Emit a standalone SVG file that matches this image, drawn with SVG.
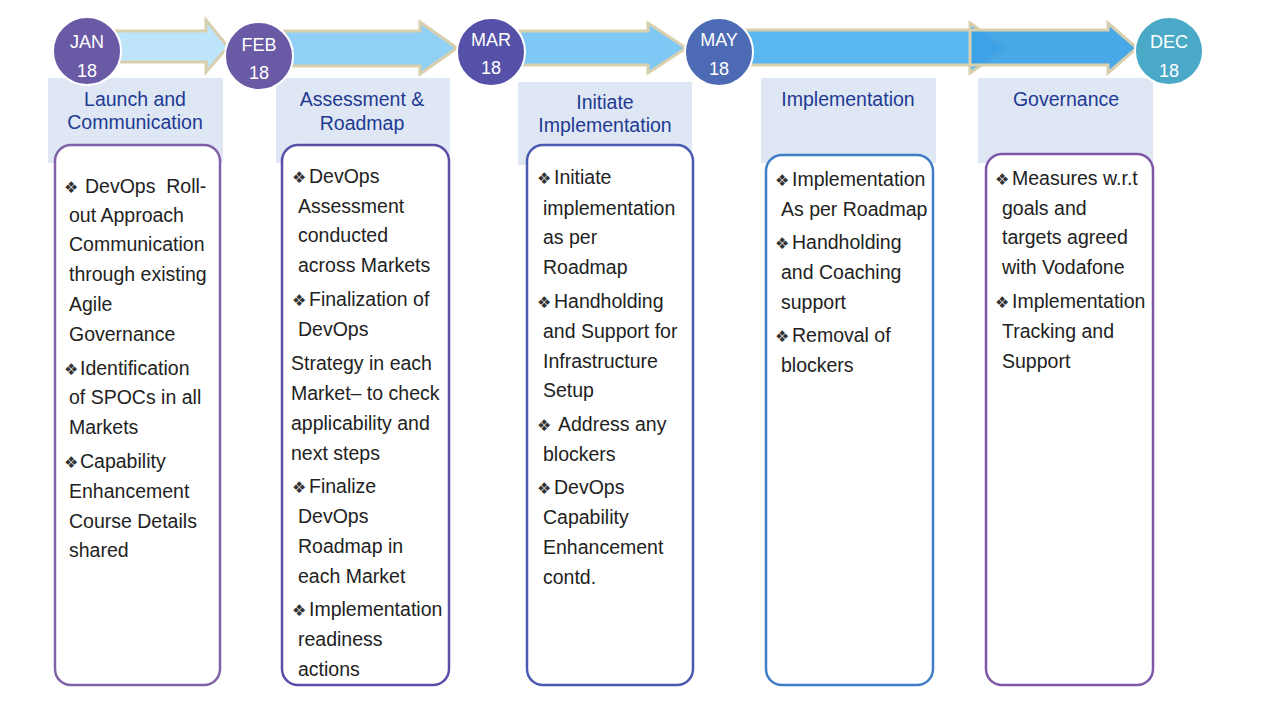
<svg xmlns="http://www.w3.org/2000/svg" width="1265" height="712" viewBox="0 0 1265 712">
<style>
.arr{stroke:#D8CFAE;stroke-width:3;stroke-linejoin:miter}
.circ{stroke:#ffffff;stroke-width:2}
.ct{font-family:"Liberation Sans",Arial,sans-serif;font-size:18px;fill:#ffffff;text-anchor:middle}
.hdr{fill:#DEE7F3}
.ht{font-family:"Liberation Sans",Arial,sans-serif;font-size:19.5px;fill:#1F3A93;text-anchor:middle}
.box{fill:#ffffff;stroke-width:2.5}
.bt{font-family:"Liberation Sans",Arial,sans-serif;font-size:19.5px;fill:#222222}
.b{font-family:"DejaVu Sans",sans-serif;font-size:16px;fill:#333333}
</style>
<rect width="1265" height="712" fill="#ffffff"/>
<g id="connectors">
<path class="arr" fill="#BEE4F9" d="M112,31 H206 V20 L228,47 L206,72 V62 H112 Z"/>
<path class="arr" fill="#92D1F6" d="M285,31 H420 V22 L457,48 L420,74 V66 H285 Z"/>
<path class="arr" fill="#7FC8F5" d="M520,31 H648 V23 L686,48 L648,73 V65 H520 Z"/>
<path class="arr" fill="#5AB7F0" d="M745,30 H970 V23 L1005,48 L970,73 V65 H745 Z"/>
<path class="arr" fill="#3AA1E6" fill-opacity="0.92" d="M970,30 H1108 V23 L1137,48 L1108,73 V65 H970 Z"/>
</g>

<g id="phase1">
<rect class="hdr" x="48" y="78" width="175" height="85"/>
<text class="ht" x="135" y="106">Launch and</text>
<text class="ht" x="135" y="129">Communication</text>
<rect class="box" x="55" y="145" width="165" height="540" rx="16" stroke="#8060A8"/>
<g class="bt">
<text x="64" y="193" xml:space="preserve"><tspan class="b">❖</tspan><tspan x="85">DevOps  Roll-</tspan></text>
<text x="69" y="222">out Approach</text>
<text x="69" y="251">Communication</text>
<text x="69" y="281">through existing</text>
<text x="69" y="311">Agile</text>
<text x="69" y="341">Governance</text>
<text x="64" y="375"><tspan class="b">❖</tspan><tspan x="80">Identification</tspan></text>
<text x="69" y="404">of SPOCs in all</text>
<text x="69" y="434">Markets</text>
<text x="64" y="468"><tspan class="b">❖</tspan><tspan x="80">Capability</tspan></text>
<text x="69" y="498">Enhancement</text>
<text x="69" y="528">Course Details</text>
<text x="69" y="557">shared</text>
</g>
</g>

<g id="phase2">
<rect class="hdr" x="276" y="78" width="174" height="85"/>
<text class="ht" x="362" y="106">Assessment &amp;</text>
<text class="ht" x="362" y="130">Roadmap</text>
<rect class="box" x="282" y="145" width="167" height="540" rx="16" stroke="#5A4FA8"/>
<g class="bt">
<text x="292" y="183"><tspan class="b">❖</tspan><tspan x="309">DevOps</tspan></text>
<text x="298" y="213">Assessment</text>
<text x="298" y="242">conducted</text>
<text x="298" y="272">across Markets</text>
<text x="292" y="306"><tspan class="b">❖</tspan><tspan x="309">Finalization of</tspan></text>
<text x="298" y="336">DevOps</text>
<text x="291" y="370">Strategy in each</text>
<text x="291" y="400">Market– to check</text>
<text x="291" y="430">applicability and</text>
<text x="291" y="460">next steps</text>
<text x="292" y="493"><tspan class="b">❖</tspan><tspan x="309">Finalize</tspan></text>
<text x="298" y="523">DevOps</text>
<text x="298" y="553">Roadmap in</text>
<text x="298" y="583">each Market</text>
<text x="292" y="616"><tspan class="b">❖</tspan><tspan x="309">Implementation</tspan></text>
<text x="298" y="646">readiness</text>
<text x="298" y="676">actions</text>
</g>
</g>

<g id="phase3">
<rect class="hdr" x="518" y="82" width="174" height="83"/>
<text class="ht" x="605" y="109">Initiate</text>
<text class="ht" x="605" y="132">Implementation</text>
<rect class="box" x="527" y="145" width="166" height="540" rx="16" stroke="#4A5AB0"/>
<g class="bt">
<text x="537" y="184"><tspan class="b">❖</tspan><tspan x="554">Initiate</tspan></text>
<text x="543" y="215">implementation</text>
<text x="543" y="244">as per</text>
<text x="543" y="274">Roadmap</text>
<text x="537" y="308"><tspan class="b">❖</tspan><tspan x="554">Handholding</tspan></text>
<text x="543" y="338">and Support for</text>
<text x="543" y="368">Infrastructure</text>
<text x="543" y="397">Setup</text>
<text x="537" y="431"><tspan class="b">❖</tspan><tspan x="558">Address any</tspan></text>
<text x="543" y="461">blockers</text>
<text x="537" y="494"><tspan class="b">❖</tspan><tspan x="554">DevOps</tspan></text>
<text x="543" y="524">Capability</text>
<text x="543" y="554">Enhancement</text>
<text x="543" y="584">contd.</text>
</g>
</g>

<g id="phase4">
<rect class="hdr" x="761" y="78" width="175" height="85"/>
<text class="ht" x="848" y="106">Implementation</text>
<rect class="box" x="766" y="155" width="167" height="530" rx="16" stroke="#3F7EC6"/>
<g class="bt">
<text x="775" y="186"><tspan class="b">❖</tspan><tspan x="792">Implementation</tspan></text>
<text x="781" y="216">As per Roadmap</text>
<text x="775" y="249"><tspan class="b">❖</tspan><tspan x="792">Handholding</tspan></text>
<text x="781" y="279">and Coaching</text>
<text x="781" y="309">support</text>
<text x="775" y="342"><tspan class="b">❖</tspan><tspan x="792">Removal of</tspan></text>
<text x="781" y="372">blockers</text>
</g>
</g>

<g id="phase5">
<rect class="hdr" x="978" y="78" width="175" height="85"/>
<text class="ht" x="1066" y="106">Governance</text>
<rect class="box" x="986" y="154" width="167" height="531" rx="16" stroke="#7E57A6"/>
<g class="bt">
<text x="995" y="185"><tspan class="b">❖</tspan><tspan x="1012">Measures w.r.t</tspan></text>
<text x="1002" y="215">goals and</text>
<text x="1002" y="244">targets agreed</text>
<text x="1002" y="274">with Vodafone</text>
<text x="995" y="308"><tspan class="b">❖</tspan><tspan x="1012">Implementation</tspan></text>
<text x="1002" y="338">Tracking and</text>
<text x="1002" y="368">Support</text>
</g>
</g>

<g id="jan"><circle class="circ" cx="87" cy="51" r="34" fill="#6A5AA6"/><text class="ct" x="87" y="48">JAN</text><text class="ct" x="87" y="77">18</text></g>
<g id="feb"><circle class="circ" cx="259" cy="56" r="34" fill="#6A5AA6"/><text class="ct" x="259" y="51">FEB</text><text class="ct" x="259" y="79">18</text></g>
<g id="mar"><circle class="circ" cx="491" cy="52" r="34" fill="#5551A8"/><text class="ct" x="491" y="46">MAR</text><text class="ct" x="491" y="74">18</text></g>
<g id="may"><circle class="circ" cx="719" cy="52" r="34" fill="#4D6BB5"/><text class="ct" x="719" y="46">MAY</text><text class="ct" x="719" y="75">18</text></g>
<g id="dec"><circle class="circ" cx="1169" cy="51" r="34" fill="#4AA9C6"/><text class="ct" x="1169" y="48">DEC</text><text class="ct" x="1169" y="77">18</text></g>
</svg>
